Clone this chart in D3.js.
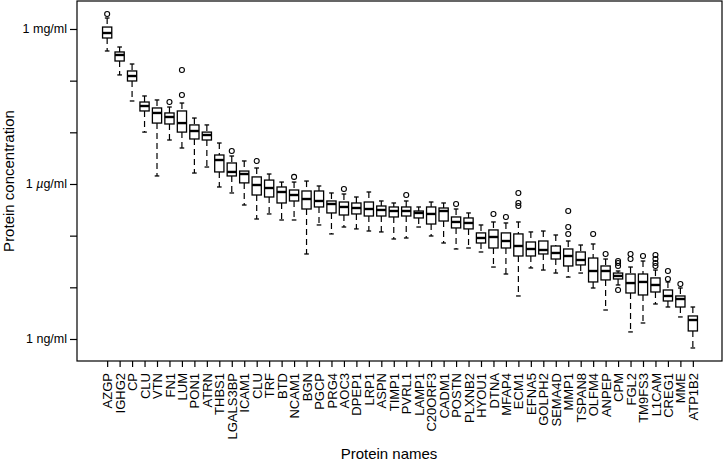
<!DOCTYPE html>
<html>
<head>
<meta charset="utf-8">
<script src="https://cdn.jsdelivr.net/npm/d3@7"></script>
<style>
  body { margin: 0; background: #fff; }
  text { font-family: "Liberation Sans", Arial, sans-serif; }
</style>
</head>
<body>
<div id="chart"></div>
<script>
// protein names, in plot order
var proteins = ["AZGP", "IGHG2", "CP", "CLU", "VTN", "FN1", "LUM", "PON1", "ATRN", "THBS1",
  "LGALS3BP", "ICAM1", "CLU", "TRF", "BTD", "NCAM1", "BGN", "PGCP", "PRG4", "AOC3",
  "DPEP1", "LRP1", "ASPN", "TIMP1", "PVRL1", "LAMP1", "C20ORF3", "CADM1", "POSTN", "PLXNB2",
  "HYOU1", "DTNA", "MFAP4", "ECM1", "EFNA5", "GOLPH2", "SEMA4D", "MMP1", "TSPAN8", "OLFM4",
  "ANPEP", "CPM", "FGL2", "TM9FS3", "L1CAM", "CREG1", "MME", "ATP1B2"];

// box statistics, all in ng/ml
var whiskerLow = [375000, 129000, 40400, 10100, 1430, 7100, 4970, 1630, 2130, 875,
  670, 392, 210, 263, 201, 201, 44.2, 161, 108, 147,
  135, 123, 118, 86.2, 90.1, 147, 98.5, 72.1, 55.2, 57.7,
  48.3, 24.7, 18.1, 6.8, 23.7, 21.6, 18.9, 15.8, 18.9, 9.7,
  3.64, 11.1, 1.37, 2.04, 4.76, 4.16, 2.67, 0.67];
var quart1 = [669000, 240000, 98500, 25900, 15100, 14500, 10100, 7430, 7100, 1710,
  1430, 1050, 612, 560, 429, 469, 328, 359, 275, 251,
  263, 240, 240, 230, 240, 220, 168, 192, 141, 135,
  72.1, 57.7, 57.7, 40.4, 40.4, 44.2, 35.3, 25.9, 27.1, 12.7,
  13.9, 14.5, 7.77, 7.11, 8.12, 5.44, 4.16, 1.43];
var medians = [836000, 314000, 123000, 32300, 23700, 19800, 15100, 10600, 8870, 2910,
  1710, 1560, 956, 836, 700, 612, 512, 469, 410, 359,
  343, 328, 314, 300, 300, 275, 263, 300, 184, 176,
  90.1, 94.2, 78.8, 63.1, 55.2, 52.8, 46.2, 40.4, 33.8, 20.7,
  20.7, 16.6, 12.1, 12.7, 11.1, 6.8, 5.94, 2.33];
var quart3 = [1090000, 359000, 154000, 38600, 29600, 23700, 25900, 13900, 10100, 3640,
  2550, 1780, 1370, 1190, 875, 765, 732, 732, 469, 448,
  429, 448, 375, 359, 359, 300, 359, 343, 230, 220,
  113, 129, 113, 108, 75.4, 78.8, 63.1, 55.2, 48.3, 36.9,
  25.9, 18.9, 18.1, 18.1, 15.2, 8.88, 6.8, 2.79];
var whiskerHigh = [1630000, 448000, 210000, 50500, 42300, 30900, 36900, 18900, 13900, 6210,
  3480, 2790, 2040, 1560, 1090, 1090, 1140, 915, 670, 640,
  560, 700, 469, 429, 469, 359, 448, 429, 328, 275,
  161, 184, 176, 184, 118, 123, 103, 78.8, 65.9, 69,
  35.3, 20.7, 24.7, 32.3, 21.6, 12.7, 9.7, 4.16];
var outliers = [[1950000], [], [], [], [], [38600], [161000, 52800], [], [], [],
  [4350], [], [2790], [], [], [1370], [], [], [], [800],
  [], [], [], [], [612], [], [], [], [410], [],
  [], [263], [230], [670, 429, 375], [], [], [], [300, 147, 108], [], [108],
  [44.2], [32.3, 29.6, 25.9, 8.88], [44.2, 35.3], [40.4], [42.2, 35.3, 29.6, 25.9], [20.7, 14.5], [11.6], []];

// y-axis tick values and labels
var yTicks = [1, 10, 100, 1000, 10000, 100000, 1000000];
var yTickLabels = {1: "1 ng/ml", 1000: "1 \u00b5g/ml", 1000000: "1 mg/ml"};

(function() {
  var width = 725, height = 462;
  var plotLeft = 77, plotRight = 722, plotTop = 1, plotBottom = 361;

  var svg = d3.select("#chart").append("svg")
    .attr("width", width).attr("height", height);

  // scales: R style positions 1..n with 4% padding
  var n = proteins.length;
  var x = d3.scaleLinear()
    .domain([0.5 - 0.04 * n, n + 0.5 + 0.04 * n])
    .range([plotLeft, plotRight + 1]);
  var y = d3.scaleLog()
    .domain([0.375, 3480000])
    .range([plotBottom, plotTop]);

  var unit = x(2) - x(1);
  var boxW = unit * 0.74;
  var capW = boxW * 0.5;

  // frame
  svg.append("rect")
    .attr("x", plotLeft).attr("y", plotTop)
    .attr("width", plotRight - plotLeft).attr("height", plotBottom - plotTop)
    .attr("fill", "none").attr("stroke", "#000").attr("stroke-width", 1.2);

  // y axis
  var yAxis = svg.append("g")
    .attr("transform", "translate(" + plotLeft + ",0)")
    .call(d3.axisLeft(y).tickValues(yTicks).tickSize(7).tickPadding(3)
      .tickFormat(function(d) { return yTickLabels[d] || ""; }));
  yAxis.select(".domain").remove();
  yAxis.selectAll("line").attr("stroke", "#000").attr("stroke-width", 1.2);
  yAxis.selectAll("text").attr("font-size", 12.5).attr("fill", "#000")
    .style("font-family", "'Liberation Sans', Arial, sans-serif");
  // italic mu on the microgram label
  yAxis.selectAll("text").filter(function(d) { return d === 1000; })
    .text(null)
    .call(function(t) {
      t.append("tspan").text("1 ");
      t.append("tspan").attr("font-style", "italic").text("\u00b5");
      t.append("tspan").text("g/ml");
    });

  // x axis
  var xAxis = svg.append("g")
    .attr("transform", "translate(0," + plotBottom + ")")
    .call(d3.axisBottom(x).tickValues(d3.range(1, n + 1)).tickSize(6).tickPadding(3)
      .tickFormat(function(d) { return proteins[d - 1]; }));
  xAxis.select(".domain").remove();
  xAxis.selectAll("line").attr("stroke", "#000").attr("stroke-width", 1.2);
  xAxis.selectAll("text")
    .attr("font-size", 13).attr("fill", "#000")
    .style("font-family", "'Liberation Sans', Arial, sans-serif")
    .attr("text-anchor", "end")
    .attr("transform", "rotate(-90)")
    .attr("x", -12).attr("y", 0).attr("dy", "0.35em");

  // axis titles
  svg.append("text")
    .attr("x", 389).attr("y", 459)
    .attr("text-anchor", "middle").attr("font-size", 15)
    .text("Protein names");
  svg.append("text")
    .attr("transform", "translate(14," + ((plotTop + plotBottom) / 2) + ") rotate(-90)")
    .attr("text-anchor", "middle").attr("font-size", 15)
    .text("Protein concentration");

  // boxplots
  var boxes = svg.append("g").selectAll("g")
    .data(proteins)
    .join("g");

  boxes.each(function(name, i) {
    var g = d3.select(this);
    var cx = x(i + 1);

    // dashed whiskers
    g.append("line")
      .attr("x1", cx).attr("x2", cx)
      .attr("y1", y(whiskerHigh[i])).attr("y2", y(quart3[i]))
      .attr("stroke", "#000").attr("stroke-width", 1.2).attr("stroke-dasharray", "6,4");
    g.append("line")
      .attr("x1", cx).attr("x2", cx)
      .attr("y1", y(quart1[i])).attr("y2", y(whiskerLow[i]))
      .attr("stroke", "#000").attr("stroke-width", 1.2).attr("stroke-dasharray", "6,4");

    // staples
    [whiskerHigh[i], whiskerLow[i]].forEach(function(v) {
      g.append("line")
        .attr("x1", cx - capW / 2).attr("x2", cx + capW / 2)
        .attr("y1", y(v)).attr("y2", y(v))
        .attr("stroke", "#000").attr("stroke-width", 1.3);
    });

    // box
    g.append("rect")
      .attr("x", cx - boxW / 2).attr("width", boxW)
      .attr("y", y(quart3[i])).attr("height", y(quart1[i]) - y(quart3[i]))
      .attr("fill", "#fff").attr("stroke", "#000").attr("stroke-width", 1.3);

    // median
    g.append("line")
      .attr("x1", cx - boxW / 2).attr("x2", cx + boxW / 2)
      .attr("y1", y(medians[i])).attr("y2", y(medians[i]))
      .attr("stroke", "#000").attr("stroke-width", 2.4);

    // outliers
    g.selectAll("circle")
      .data(outliers[i])
      .join("circle")
      .attr("cx", cx).attr("cy", function(d) { return y(d); })
      .attr("r", 2.5)
      .attr("fill", "none").attr("stroke", "#000").attr("stroke-width", 1.1);
  });
})();
</script>
</body>
</html>
